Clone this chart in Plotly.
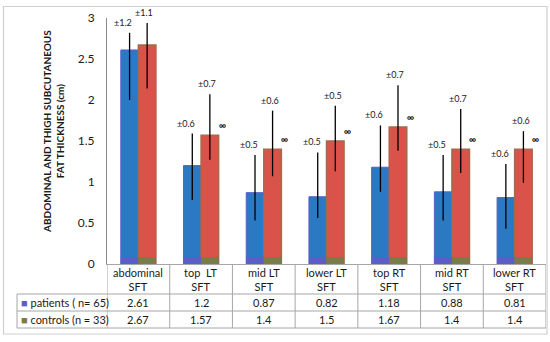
import plotly.graph_objects as go

# ---------------- data ----------------
categories = ["abdominal<br>SFT", "top  LT<br>SFT", "mid LT<br>SFT", "lower LT<br>SFT",
              "top RT<br>SFT", "mid RT<br>SFT", "lower RT<br>SFT"]
patients = [2.61, 1.2, 0.87, 0.82, 1.18, 0.88, 0.81]
controls = [2.67, 1.57, 1.4, 1.5, 1.67, 1.4, 1.4]
patients_label = ["2.61", "1.2", "0.87", "0.82", "1.18", "0.88", "0.81"]
controls_label = ["2.67", "1.57", "1.4", "1.5", "1.67", "1.4", "1.4"]
# whisker extents as drawn in the picture
pat_err_hi = [2.82, 1.59, 1.33, 1.36, 1.69, 1.33, 1.22]
pat_err_lo = [2.00, 0.78, 0.53, 0.56, 0.88, 0.53, 0.43]
ctl_err_hi = [2.94, 2.07, 1.87, 1.93, 2.18, 1.89, 1.62]
ctl_err_lo = [2.14, 1.27, 1.07, 1.13, 1.38, 1.11, 0.99]
pat_sd = ["±1.2", "±0.6", "±0.5", "±0.5", "±0.6", "±0.5", "±0.6"]
ctl_sd = ["±1.1", "±0.7", "±0.6", "±0.5", "±0.7", "±0.7", "±0.6"]
sig = ["", "∞", "∞", "∞", "∞", "∞", "∞"]
series_names = ["patients ( n= 65)", "controls (n = 33)"]
y_ticks = [0, 0.5, 1, 1.5, 2, 2.5, 3]
y_tick_text = ["0", "0.5", "1", "1.5", "2", "2.5", "3"]

# ---------------- style ----------------
FONT = "Lato"
BLUE = "#2b79c2"
BLUE_BAND = "#5a5ec6"
RED = "#d9534b"
RED_LINE = "#a36a4c"
OLIVE = "#7c7a48"
GRID = "#a6a6a6"
TXT = "#1a1a1a"
BAND = 0.085

W, H = 550, 342
L, R, T, B = 107, 546, 18, 264

def px(p):
    return (p - L) / (R - L)

def py(p):
    return (B - p) / (B - T)

idx = list(range(len(categories)))

fig = go.Figure()
fig.add_trace(go.Bar(
    x=idx, y=patients, offsetgroup="p", name=series_names[0],
    marker=dict(color=BLUE, line=dict(color=BLUE_BAND, width=1)),
    error_y=dict(type="data", symmetric=False,
                 array=[h - v for h, v in zip(pat_err_hi, patients)],
                 arrayminus=[v - l for l, v in zip(pat_err_lo, patients)],
                 color="black", thickness=1.3, width=0),
    showlegend=False, hoverinfo="skip"))
fig.add_trace(go.Bar(
    x=idx, y=controls, offsetgroup="c", name=series_names[1],
    marker=dict(color=RED, line=dict(color=RED_LINE, width=1.5)),
    error_y=dict(type="data", symmetric=False,
                 array=[h - v for h, v in zip(ctl_err_hi, controls)],
                 arrayminus=[v - l for l, v in zip(ctl_err_lo, controls)],
                 color="black", thickness=1.3, width=0),
    showlegend=False, hoverinfo="skip"))
# bottom colour bands of the bars
fig.add_trace(go.Bar(x=idx, y=[BAND] * len(idx), offsetgroup="p",
                     marker=dict(color=BLUE_BAND, line=dict(width=0)),
                     showlegend=False, hoverinfo="skip"))
fig.add_trace(go.Bar(x=idx, y=[BAND] * len(idx), offsetgroup="c",
                     marker=dict(color=OLIVE, line=dict(width=0)),
                     showlegend=False, hoverinfo="skip"))

ann = []
for i in idx:
    ann.append(dict(x=i, y=pat_err_hi[i], xref="x", yref="y", text=pat_sd[i],
                    showarrow=False, yanchor="bottom", xshift=-15, yshift=3,
                    font=dict(size=9, color=TXT, family=FONT)))
    ann.append(dict(x=i, y=ctl_err_hi[i], xref="x", yref="y", text=ctl_sd[i],
                    showarrow=False, yanchor="bottom", xshift=6, yshift=3,
                    font=dict(size=9, color=TXT, family=FONT)))
    if sig[i]:
        ann.append(dict(x=i, y=controls[i], xref="x", yref="y", text="<b>" + sig[i] + "</b>",
                        showarrow=False, yanchor="middle", xshift=21, yshift=10,
                        font=dict(size=10, color=TXT, family=FONT)))
    # table cells
    ann.append(dict(x=i, y=py(279.5), xref="x", yref="paper", text=categories[i],
                    showarrow=False, yanchor="middle",
                    font=dict(size=11, color=TXT, family=FONT)))
    ann.append(dict(x=i, y=py(302.5), xref="x", yref="paper", text=patients_label[i],
                    showarrow=False, yanchor="middle",
                    font=dict(size=11, color=TXT, family=FONT)))
    ann.append(dict(x=i, y=py(319.5), xref="x", yref="paper", text=controls_label[i],
                    showarrow=False, yanchor="middle",
                    font=dict(size=11, color=TXT, family=FONT)))

# legend rows in the table
for name, col, yc in [(series_names[0], BLUE_BAND, 302.5), (series_names[1], OLIVE, 319.5)]:
    ann.append(dict(x=px(19), y=py(yc), xref="paper", yref="paper",
                    text=f"<span style='color:{col}'>■</span> {name}",
                    showarrow=False, xanchor="left", yanchor="middle",
                    font=dict(size=11, color=TXT, family=FONT)))

# y axis title
ann.append(dict(x=px(53), y=py(132), xref="paper", yref="paper",
                text="<b>ABDOMINAL AND THIGH SUBCUTANEOUS<br>FAT THICKNESS (cm)</b>",
                showarrow=False, textangle=-90, xanchor="center", yanchor="middle",
                font=dict(size=10, color=TXT, family=FONT)))

shapes = []
line = dict(color=GRID, width=1)
# outer chart frame
shapes.append(dict(type="rect", xref="paper", yref="paper",
                   x0=px(3.5), x1=px(547), y0=py(334), y1=py(6.5),
                   line=dict(color="#cfcfcf", width=1.2), layer="below"))
# horizontal table lines
for yy, x0 in [(294, 17), (311, 17), (328, 17)]:
    shapes.append(dict(type="line", xref="paper", yref="paper",
                       x0=px(x0), x1=px(R), y0=py(yy), y1=py(yy), line=line))
# vertical category boundaries
for k in range(len(categories) + 1):
    shapes.append(dict(type="line", xref="x", yref="paper",
                       x0=k - 0.5, x1=k - 0.5, y0=py(B), y1=py(328), line=line))
# left edge of legend column
shapes.append(dict(type="line", xref="paper", yref="paper",
                   x0=px(17), x1=px(17), y0=py(294), y1=py(328), line=line))

fig.update_layout(
    width=W, height=H,
    margin=dict(l=L, r=W - R, t=T, b=H - B),
    paper_bgcolor="white", plot_bgcolor="white",
    barmode="group", bargap=0.44, bargroupgap=0,
    font=dict(family=FONT, size=11, color=TXT),
    xaxis=dict(range=[-0.5, len(categories) - 0.5], showticklabels=False,
               showgrid=False, zeroline=False, showline=True, linecolor=GRID,
               linewidth=1, ticks=""),
    yaxis=dict(range=[0, 3], tickvals=y_ticks, ticktext=y_tick_text,
               showgrid=False, zeroline=False, showline=True, linecolor="#8c8c8c",
               linewidth=1, ticks="", ticklabelstandoff=9,
               tickfont=dict(size=12, color=TXT, family=FONT)),
    annotations=ann, shapes=shapes,
)

fig.write_html("out.html", config={"displayModeBar": False},
               post_script="document.body.style.margin='0';")
